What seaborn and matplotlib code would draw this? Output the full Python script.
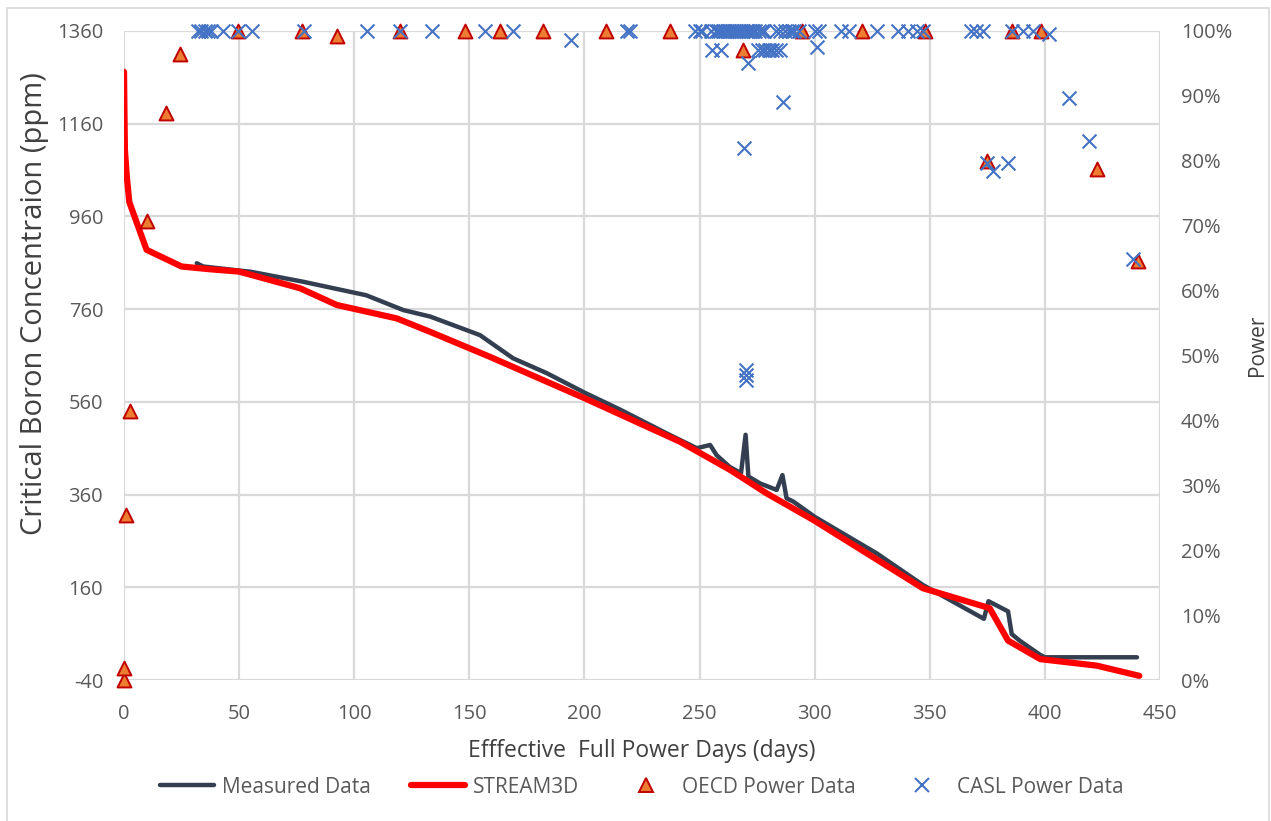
import matplotlib
matplotlib.use("Agg")
import matplotlib.pyplot as plt
import seaborn as sns
import pandas as pd
from matplotlib.ticker import FuncFormatter, MultipleLocator
from matplotlib.lines import Line2D

# ---------------- data ----------------
measured_days = [31.6, 34.4, 50.4, 54.7, 77.9, 105.2, 121.3, 133.0, 154.6, 169.0,
                 183.6, 200.0, 215.6, 235.7, 248.8, 254.6, 257.4, 263.0, 268.0, 270.0,
                 271.2, 276.3, 283.5, 286.0, 287.8, 290.7, 300.0, 327.0, 347.0, 373.5,
                 375.5, 384.0, 385.6, 389.0, 398.0, 400.0, 440.0]
measured_ppm = [859, 852, 843, 841, 819, 790, 758, 744, 704, 654,
                622, 580, 543, 492, 460, 467, 445, 420, 406, 489,
                399, 384, 370, 402, 352, 345, 312, 233, 165, 92,
                130, 108, 59, 45, 14, 9, 9]

stream_days = [0.0, 0.2, 0.4, 1.2, 2.3, 9.8, 25.0, 37.4, 50.0, 76.5, 92.4, 118.5,
               133.0, 159.0, 200.0, 241.5, 263.0, 269.0, 279.0, 299.5, 347.0,
               376.0, 384.0, 398.0, 422.5, 441.0]
stream_ppm = [1272, 1180, 1103, 1047, 991, 888, 852, 846, 841, 805, 769, 740,
              711, 657, 568, 474, 414, 395, 363, 305, 158,
              115, 45, 5, -9, -31]

oecd_days = [0.0, 0.0, 0.9, 2.6, 10.0, 18.2, 24.3, 49.5, 77.5, 92.4, 120.0, 148.0,
             163.3, 182.0, 209.5, 237.0, 269.0, 294.5, 320.5, 348.0, 375.0, 385.5,
             398.5, 422.5, 440.5]
oecd_power = [0.0, 0.019, 0.254, 0.414, 0.707, 0.874, 0.965, 1.0, 1.0, 0.993, 1.0, 1.0,
              1.0, 1.0, 1.0, 1.0, 0.971, 1.0, 1.0, 1.0, 0.80, 1.0,
              1.0, 0.787, 0.646]

casl_days = [32.0, 33.5, 35.0, 36.5, 38.0, 43.0, 49.5, 55.5, 78.0, 105.5, 120.0,
             133.7, 156.8, 169.0, 194.0, 218.5, 220.0,
             248.0, 250.0, 251.0, 255.0, 257.0, 258.0, 259.0, 260.0, 261.0, 262.0,
             263.0, 264.0, 265.0, 266.0, 267.0, 268.0, 269.0, 270.0, 271.0, 272.0,
             273.0, 274.0, 276.0, 277.0, 278.0, 283.0, 285.0, 287.0, 289.0, 290.0,
             291.0, 293.0,
             255.5, 259.5, 275.5, 277.0, 278.5, 280.0, 281.5, 283.0, 285.0,
             271.0, 301.0, 286.4, 269.4, 270.0, 270.0, 270.0,
             300.0, 302.0, 311.5, 315.0, 327.0, 336.0, 340.5, 344.5, 347.0, 368.0,
             370.0, 373.0, 385.5, 390.6, 394.9, 402.0,
             374.7, 377.6, 384.0, 410.5, 419.0, 438.4]
casl_power = [1.0, 1.0, 1.0, 1.0, 1.0, 1.0, 1.0, 1.0, 1.0, 1.0, 1.0,
              1.0, 1.0, 1.0, 0.986, 1.0, 1.0,
              1.0, 1.0, 1.0, 1.0, 1.0, 1.0, 1.0, 1.0, 1.0, 1.0,
              1.0, 1.0, 1.0, 1.0, 1.0, 1.0, 1.0, 1.0, 1.0, 1.0,
              1.0, 1.0, 1.0, 1.0, 1.0, 1.0, 1.0, 1.0, 1.0, 1.0,
              1.0, 1.0,
              0.971, 0.971, 0.971, 0.971, 0.971, 0.971, 0.971, 0.971, 0.971,
              0.951, 0.976, 0.891, 0.819, 0.478, 0.470, 0.462,
              1.0, 1.0, 1.0, 1.0, 1.0, 1.0, 1.0, 1.0, 1.0, 1.0,
              1.0, 1.0, 1.0, 1.0, 1.0, 0.995,
              0.797, 0.785, 0.797, 0.897, 0.830, 0.648]

x_ticks = [0, 50, 100, 150, 200, 250, 300, 350, 400, 450]
y_ticks = [-40, 160, 360, 560, 760, 960, 1160, 1360]

# ---------------- style ----------------
sns.set_theme(style="white")
plt.rcParams['font.family'] = ['Open Sans', 'DejaVu Sans']
plt.rcParams['axes.unicode_minus'] = False

W, H = 1271, 821
fig = plt.figure(figsize=(W / 100, H / 100), dpi=100)
ax = fig.add_axes([124 / W, (H - 680) / H, (1160 - 124) / W, (680 - 31) / H])
ax2 = ax.twinx()

grid_c = "#d9d9d9"
txt_c = "#595959"

df_m = pd.DataFrame({"days": measured_days, "ppm": measured_ppm})
df_s = pd.DataFrame({"days": stream_days, "ppm": stream_ppm})
df_o = pd.DataFrame({"days": oecd_days, "power": oecd_power})
df_c = pd.DataFrame({"days": casl_days, "power": casl_power})

sns.lineplot(data=df_m, x="days", y="ppm", ax=ax, color="#333f50", lw=3.2,
             sort=False, estimator=None, zorder=3)
sns.lineplot(data=df_s, x="days", y="ppm", ax=ax, color="#ff0000", lw=4.5,
             sort=False, estimator=None, zorder=4)

ax2.scatter(df_o["days"], df_o["power"], marker="^", s=100, color="#ed7d31",
            edgecolor="#c00000", linewidth=1.4, zorder=5, clip_on=False)
sns.scatterplot(data=df_c, x="days", y="power", ax=ax2, marker="x", s=100,
                color="#4472c4", linewidth=1.5, zorder=6, clip_on=False)

ax.set_xlim(0, 450)
ax.set_ylim(-40, 1360)
ax2.set_ylim(0, 1)
ax.set_xticks(x_ticks)
ax.set_yticks(y_ticks)
ax2.yaxis.set_major_locator(MultipleLocator(0.1))
ax2.yaxis.set_major_formatter(FuncFormatter(lambda v, p: f"{v*100:.0f}%"))

ax.grid(True, color=grid_c, lw=1.6)
ax.set_axisbelow(True)
for a in (ax, ax2):
    for s in a.spines.values():
        s.set_visible(False)

ax.tick_params(axis="both", length=0, labelsize=14.5, labelcolor=txt_c)
ax.tick_params(axis="y", pad=15)
ax.tick_params(axis="x", pad=17)
ax2.tick_params(axis="y", length=0, labelsize=14.5, labelcolor=txt_c, pad=15)

ax.set_xlabel("Efffective  Full Power Days (days)", fontsize=16.5, color="#404040",
              labelpad=11)
ax.set_ylabel("Critical Boron Concentraion (ppm)", fontsize=21, color="#404040",
              labelpad=6)
ax.yaxis.label.set_y(0.58)
ax2.set_ylabel("Power", fontsize=15, color="#404040", labelpad=11)
ax2.yaxis.label.set_y(0.515)

handles = [
    Line2D([], [], color="#333f50", lw=3.2, label="Measured Data"),
    Line2D([], [], color="#ff0000", lw=4.5, label="STREAM3D"),
    Line2D([], [], ls="none", marker="^", ms=10, mfc="#ed7d31", mec="#c00000",
           mew=1.4, label="OECD Power Data"),
    Line2D([], [], ls="none", marker="x", ms=10, color="#4472c4", mew=1.5,
           label="CASL Power Data"),
]
leg = fig.legend(handles=handles, loc="center", bbox_to_anchor=(642 / W, 1 - 787 / H),
                 ncol=4, frameon=False, fontsize=15, handlelength=2.6,
                 columnspacing=1.9, handletextpad=0.4)
for t in leg.get_texts():
    t.set_color(txt_c)

# outer light border
for xs, ys in [((7, 7), (8, H)), ((7, 1269), (8, 8)), ((1269, 1269), (8, H))]:
    fig.add_artist(Line2D([x / W for x in xs], [1 - y / H for y in ys],
                          color=grid_c, lw=1.2))

fig.savefig("out.png", dpi=100, facecolor="white")
